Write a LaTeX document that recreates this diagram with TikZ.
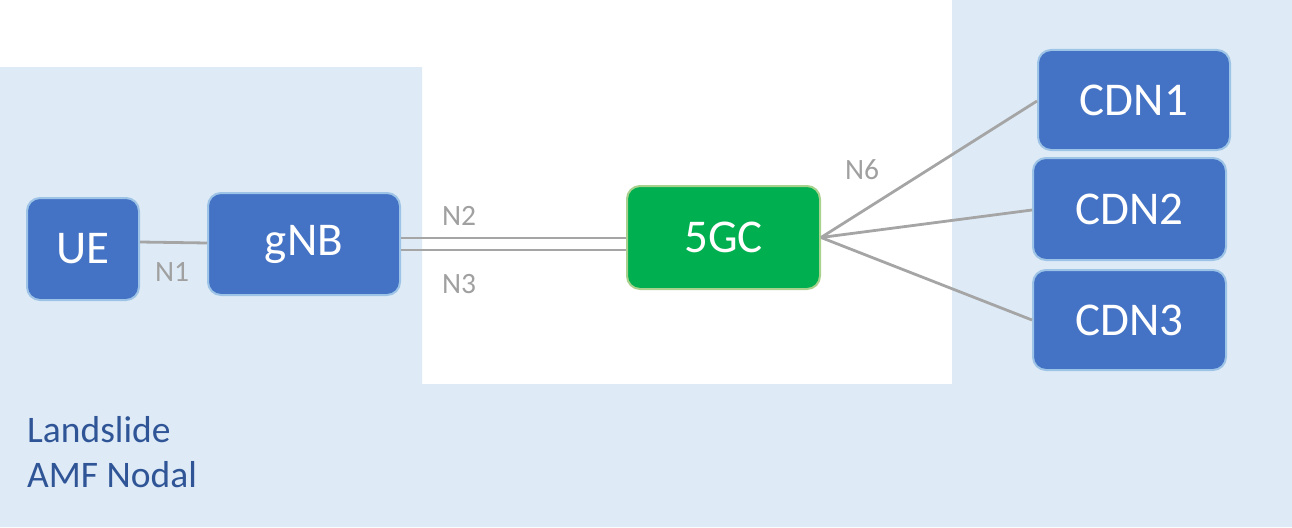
\documentclass[tikz,border=0pt]{standalone}
\usepackage{fontspec}
\setmainfont{Carlito}
\definecolor{bgblue}{HTML}{DEEBF7}
\definecolor{boxblue}{HTML}{4472C4}
\definecolor{boxedge}{HTML}{9DC3E6}
\definecolor{boxgreen}{HTML}{00B050}
\definecolor{greenedge}{HTML}{A9D18E}
\definecolor{linkgray}{HTML}{A5A5A5}
\definecolor{labelgray}{HTML}{A0A0A0}
\definecolor{titleblue}{HTML}{2F5597}
\begin{document}
\begin{tikzpicture}[x=1pt,y=-1pt,
  nf/.style={draw=boxedge, line width=2pt, fill=boxblue, rounded corners=13pt,
    text=white, inner sep=0pt, font=\fontsize{47}{50}\selectfont},
  core/.style={nf, draw=greenedge, fill=boxgreen},
  link/.style={draw=linkgray, line width=2.8pt},
  lbl/.style={text=labelgray, font=\fontsize{29.5}{32}\selectfont, inner sep=0pt}]
\useasboundingbox (0,0) rectangle (1292,527);
\fill[bgblue] (0,67) -- (422,67) -- (422,384) -- (952,384) -- (952,0) -- (1292,0) -- (1292,527) -- (0,527) -- cycle;
\node[nf, minimum width=112pt, minimum height=102pt] (ue) at (83,249) {UE};
\node[nf, minimum width=192pt, minimum height=102pt] (gnb) at (304,244) {gNB};
\node[core, minimum width=193pt, minimum height=103pt] (core5g) at (723.5,237.5) {5GC};
\node[nf, minimum width=192pt, minimum height=100pt] (cdn1) at (1134,100) {CDN1};
\node[nf, minimum width=193pt, minimum height=102pt] (cdn2) at (1129.5,209) {CDN2};
\node[nf, minimum width=193pt, minimum height=100pt] (cdn3) at (1129.5,320) {CDN3};
\draw[link] ([yshift=7pt]ue.east) -- ([yshift=1pt]gnb.west);
\draw[link] ([yshift=6pt]gnb.east) -- ([yshift=-0.5pt]core5g.west);
\draw[link] ([yshift=-6pt]gnb.east) -- ([yshift=-12.5pt]core5g.west);
\draw[link] (core5g.east) -- ([yshift=-1pt]cdn1.west);
\draw[link] (core5g.east) -- ([yshift=-1pt]cdn2.west);
\draw[link] (core5g.east) -- (cdn3.west);
\node[lbl] (n1) at (172,272) {N1};
\node[lbl] (n2) at (459,216) {N2};
\node[lbl] (n3) at (459,284) {N3};
\node[lbl] (n6) at (862,170) {N6};
\node[text=titleblue, font=\fontsize{37.5}{45}\selectfont, align=left, anchor=north west, inner sep=0pt] (title) at (27,416) {Landslide\\AMF Nodal};
\end{tikzpicture}
\end{document}
